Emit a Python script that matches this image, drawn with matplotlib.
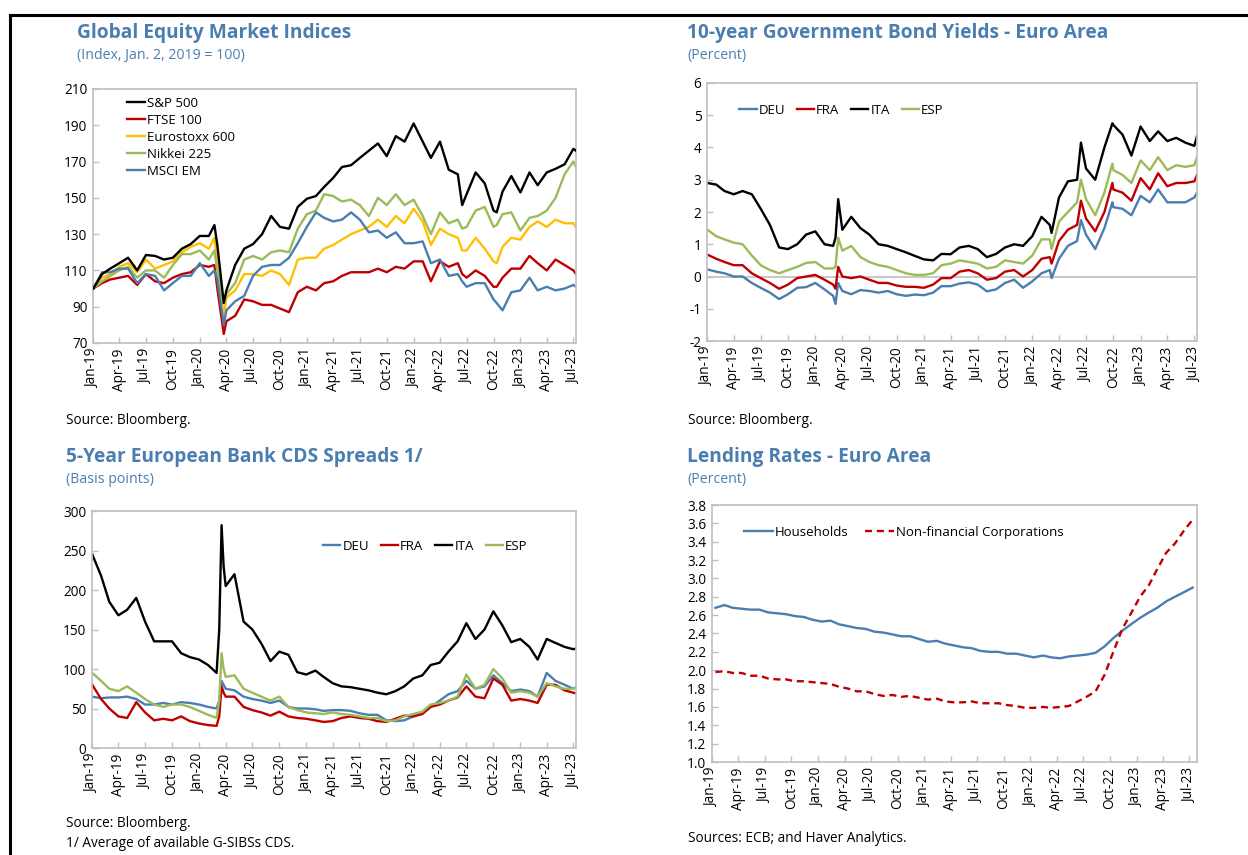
import matplotlib
matplotlib.use("Agg")
import matplotlib.pyplot as plt
import matplotlib.dates as mdates
from matplotlib.lines import Line2D
import pandas as pd

plt.rcParams['font.family'] = ['Open Sans', 'DejaVu Sans']
plt.rcParams['axes.unicode_minus'] = False

# ---------------- Panel 1: Global equity indices ----------------
eq_dates = [
    "2019-01-02", "2019-02-01", "2019-03-01", "2019-04-01", "2019-05-01", "2019-06-01",
    "2019-07-01", "2019-08-01", "2019-09-01", "2019-10-01", "2019-11-01", "2019-12-01",
    "2020-01-01", "2020-02-01", "2020-02-20", "2020-03-01", "2020-03-23", "2020-04-01",
    "2020-05-01", "2020-06-01", "2020-07-01", "2020-08-01", "2020-09-01", "2020-10-01",
    "2020-11-01", "2020-12-01",
    "2021-01-01", "2021-02-01", "2021-03-01", "2021-04-01", "2021-05-01", "2021-06-01",
    "2021-07-01", "2021-08-01", "2021-09-01", "2021-10-01", "2021-11-01", "2021-12-01",
    "2022-01-01", "2022-02-01", "2022-03-01", "2022-04-01", "2022-05-01", "2022-06-01",
    "2022-06-16", "2022-07-01", "2022-08-01", "2022-09-01", "2022-10-01", "2022-10-12",
    "2022-11-01", "2022-12-01",
    "2023-01-01", "2023-02-01", "2023-03-01", "2023-04-01", "2023-05-01", "2023-06-01",
    "2023-07-01", "2023-07-10"]
sp500 = [100, 108, 111, 114, 117, 110, 118.5, 118, 116, 117, 122, 124.5,
         129, 129, 135, 124, 92, 99, 113, 122, 124.5, 130, 140, 134, 133, 145,
         149.5, 151, 156, 161, 167, 168, 172, 176, 180, 173, 184, 181,
         191, 181, 172, 181, 165.5, 163, 146, 152, 164, 158, 143, 142, 153.5, 162,
         153, 164, 157, 164, 166, 168.5, 177, 176]
ftse100 = [100, 103, 105, 106, 107, 102, 108, 104, 103, 106, 108, 109,
           113, 112, 113, 100, 75, 82, 85, 94, 93, 91, 91, 89, 87, 98,
           101, 99, 103, 104, 107, 109, 109, 109, 111, 109, 112, 111,
           115, 115, 104, 115, 112, 114, 108, 106, 110, 107, 101, 101, 106, 111,
           111, 118, 114, 110, 116, 113, 110, 108]
stoxx600 = [100, 106, 108, 112, 114, 109, 116, 111, 113, 115, 120, 123,
            125, 122, 128, 113, 84, 95, 99, 108, 108, 107, 110, 108, 102, 116,
            117, 117, 122, 124, 127, 130, 132, 134, 138, 134, 140, 136,
            144, 137, 124, 133, 130, 128, 121, 121, 128, 122, 115, 114, 123, 128,
            127, 134, 137, 134, 138, 136, 136, 134]
nikkei = [100, 104, 107, 110, 112, 106, 110, 110, 106, 113, 119, 119,
          121, 116, 121, 110, 92, 97, 103, 116, 118, 116, 120, 121, 120, 133,
          141, 143, 152, 151, 148, 149, 146, 140, 150, 146, 152, 146,
          149, 140, 130, 142, 136, 138, 133, 134, 143, 145, 134, 135, 141, 142,
          132, 139, 140, 143, 150, 163, 170, 167]
msci_em = [100, 109, 109, 111, 111, 103, 108, 107, 99, 103, 107, 107,
           114, 107, 110, 105, 80, 88, 93, 96, 107, 112, 113, 113, 117, 125,
           134, 142, 139, 137, 138, 142, 138, 131, 132, 128, 131, 125,
           125, 126, 114, 116, 107, 108, 104, 101, 103, 103, 94, 92, 88, 98,
           99, 106, 99, 101, 99, 100, 102, 101]

# ---------------- Panel 2: 10-year bond yields ----------------
by_dates = [
    "2019-01-02", "2019-02-01", "2019-03-01", "2019-04-01", "2019-05-01", "2019-06-01",
    "2019-07-01", "2019-08-01", "2019-09-01", "2019-10-01", "2019-11-01", "2019-12-01",
    "2020-01-01", "2020-02-01", "2020-03-01", "2020-03-09", "2020-03-18", "2020-04-01",
    "2020-05-01", "2020-06-01", "2020-07-01", "2020-08-01", "2020-09-01", "2020-10-01",
    "2020-11-01", "2020-12-01",
    "2021-01-01", "2021-02-01", "2021-03-01", "2021-04-01", "2021-05-01", "2021-06-01",
    "2021-07-01", "2021-08-01", "2021-09-01", "2021-10-01", "2021-11-01", "2021-12-01",
    "2022-01-01", "2022-02-01", "2022-03-01", "2022-03-07", "2022-04-01", "2022-05-01",
    "2022-06-01", "2022-06-14", "2022-07-01", "2022-08-01", "2022-09-01", "2022-09-28",
    "2022-10-01", "2022-11-01", "2022-12-01",
    "2023-01-01", "2023-02-01", "2023-03-01", "2023-04-01", "2023-05-01", "2023-06-01",
    "2023-07-01", "2023-07-10"]
by_deu = [0.22, 0.15, 0.1, 0.0, 0.0, -0.2, -0.35, -0.5, -0.7, -0.55, -0.35, -0.33,
          -0.2, -0.4, -0.6, -0.85, -0.2, -0.45, -0.55, -0.42, -0.45, -0.5, -0.45, -0.55, -0.6, -0.56,
          -0.58, -0.5, -0.3, -0.3, -0.22, -0.18, -0.25, -0.46, -0.4, -0.2, -0.1, -0.35,
          -0.15, 0.1, 0.2, -0.05, 0.55, 0.95, 1.1, 1.75, 1.3, 0.85, 1.5, 2.3, 2.15, 2.1, 1.9,
          2.5, 2.3, 2.7, 2.3, 2.3, 2.3, 2.45, 2.6]
by_fra = [0.68, 0.55, 0.45, 0.35, 0.35, 0.1, -0.05, -0.2, -0.38, -0.25, -0.05, 0.0,
          0.05, -0.1, -0.25, -0.38, 0.3, 0.0, -0.05, 0.0, -0.1, -0.2, -0.2, -0.28, -0.32, -0.32,
          -0.35, -0.25, -0.05, -0.05, 0.15, 0.2, 0.1, -0.1, -0.05, 0.15, 0.2, 0.0,
          0.2, 0.55, 0.6, 0.4, 1.1, 1.45, 1.6, 2.35, 1.8, 1.4, 2.0, 2.9, 2.7, 2.6, 2.35,
          3.05, 2.7, 3.2, 2.8, 2.9, 2.9, 2.95, 3.15]
by_ita = [2.9, 2.85, 2.65, 2.55, 2.65, 2.55, 2.1, 1.6, 0.9, 0.85, 1.0, 1.3,
          1.4, 1.0, 0.95, 1.2, 2.4, 1.45, 1.85, 1.5, 1.3, 1.0, 0.95, 0.85, 0.75, 0.64,
          0.53, 0.5, 0.7, 0.69, 0.9, 0.95, 0.85, 0.6, 0.7, 0.9, 1.0, 0.95,
          1.25, 1.85, 1.6, 1.35, 2.45, 2.95, 3.0, 4.15, 3.35, 3.0, 4.0, 4.75, 4.7, 4.4, 3.75,
          4.65, 4.2, 4.5, 4.2, 4.3, 4.15, 4.05, 4.35]
by_esp = [1.45, 1.25, 1.15, 1.05, 1.0, 0.65, 0.35, 0.2, 0.1, 0.2, 0.3, 0.42,
          0.45, 0.25, 0.25, 0.3, 1.2, 0.8, 0.95, 0.6, 0.45, 0.35, 0.3, 0.2, 0.1, 0.05,
          0.05, 0.1, 0.35, 0.4, 0.5, 0.45, 0.4, 0.25, 0.3, 0.5, 0.45, 0.4,
          0.65, 1.15, 1.15, 0.85, 1.7, 2.0, 2.3, 3.0, 2.4, 1.9, 2.6, 3.5, 3.3, 3.15, 2.9,
          3.6, 3.3, 3.7, 3.3, 3.45, 3.4, 3.45, 3.7]

# ---------------- Panel 3: bank CDS spreads ----------------
cds_dates = [
    "2019-01-02", "2019-02-01", "2019-03-01", "2019-04-01", "2019-05-01", "2019-06-01",
    "2019-07-01", "2019-08-01", "2019-09-01", "2019-10-01", "2019-11-01", "2019-12-01",
    "2020-01-01", "2020-02-01", "2020-03-01", "2020-03-10", "2020-03-18", "2020-03-25",
    "2020-04-01", "2020-05-01", "2020-06-01", "2020-07-01", "2020-08-01", "2020-09-01",
    "2020-10-01", "2020-11-01", "2020-12-01",
    "2021-01-01", "2021-02-01", "2021-03-01", "2021-04-01", "2021-05-01", "2021-06-01",
    "2021-07-01", "2021-08-01", "2021-09-01", "2021-10-01", "2021-11-01", "2021-12-01",
    "2022-01-01", "2022-02-01", "2022-03-01", "2022-04-01", "2022-05-01", "2022-06-01",
    "2022-07-01", "2022-08-01", "2022-09-01", "2022-10-01", "2022-11-01", "2022-12-01",
    "2023-01-01", "2023-02-01", "2023-03-01", "2023-04-01", "2023-05-01", "2023-06-01",
    "2023-07-01", "2023-07-10"]
cds_deu = [65, 63, 64, 64, 65, 62, 55, 55, 57, 55, 58, 57,
           55, 52, 50, 60, 85, 80, 75, 73, 65, 62, 60, 57, 60, 52, 50,
           50, 49, 47, 48, 48, 47, 44, 42, 42, 35, 34, 35,
           40, 45, 52, 60, 68, 72, 85, 75, 78, 92, 82, 72,
           74, 72, 65, 95, 85, 80, 75, 77]
cds_fra = [80, 62, 50, 40, 38, 58, 45, 35, 37, 35, 40, 34,
           31, 29, 28, 40, 78, 70, 65, 65, 52, 48, 45, 41, 46, 40, 38,
           37, 35, 33, 34, 38, 40, 38, 37, 34, 33, 37, 41,
           40, 43, 52, 55, 60, 64, 78, 65, 63, 88, 80, 60,
           62, 60, 57, 80, 80, 73, 70, 69]
cds_ita = [245, 218, 185, 168, 175, 190, 160, 135, 135, 135, 120, 115,
           112, 105, 95, 150, 282, 230, 205, 220, 160, 150, 132, 110, 122, 118, 96,
           93, 98, 90, 82, 78, 77, 75, 73, 70, 68, 72, 78,
           88, 92, 105, 108, 122, 135, 158, 138, 150, 173, 155, 134,
           138, 128, 112, 138, 133, 128, 125, 126]
cds_esp = [95, 85, 75, 72, 78, 70, 62, 55, 52, 55, 55, 52,
           47, 42, 38, 60, 120, 100, 90, 92, 75, 70, 65, 60, 65, 52, 48,
           45, 44, 43, 45, 43, 42, 40, 38, 38, 34, 35, 40,
           43, 46, 55, 57, 60, 65, 93, 75, 80, 100, 88, 70,
           72, 70, 65, 82, 78, 75, 75, 76]

# ---------------- Panel 4: lending rates ----------------
lr_dates = pd.date_range("2019-01-01", periods=55, freq="MS") + pd.Timedelta(days=12)
households = [2.68, 2.71, 2.68, 2.67, 2.66, 2.66, 2.63, 2.62, 2.61, 2.59, 2.58, 2.55,
              2.53, 2.54, 2.50, 2.48, 2.46, 2.45, 2.42, 2.41, 2.39, 2.37, 2.37, 2.34,
              2.31, 2.32, 2.29, 2.27, 2.25, 2.24, 2.21, 2.20, 2.20, 2.18, 2.18, 2.16,
              2.14, 2.16, 2.14, 2.13, 2.15, 2.16, 2.17, 2.19, 2.26, 2.35, 2.43, 2.50,
              2.57, 2.63, 2.68, 2.75, 2.80, 2.85, 2.90]
nfc = [1.98, 1.99, 1.97, 1.97, 1.94, 1.94, 1.91, 1.90, 1.90, 1.88, 1.88, 1.87,
       1.86, 1.85, 1.82, 1.80, 1.77, 1.77, 1.74, 1.72, 1.73, 1.71, 1.72, 1.70,
       1.68, 1.69, 1.66, 1.65, 1.65, 1.66, 1.64, 1.64, 1.64, 1.62, 1.61, 1.59,
       1.59, 1.60, 1.59, 1.60, 1.61, 1.66, 1.71, 1.77, 1.95, 2.20, 2.45, 2.62,
       2.80, 2.93, 3.10, 3.28, 3.38, 3.52, 3.64]

# ---------------- styling ----------------
BLUE_T = '#4A7EB0'
C_BLACK = '#000000'
C_RED = '#C00000'
C_GOLD = '#FFC000'
C_GREEN = '#9BBB59'
C_BLUE = '#4A7EB0'
GRID = '#BFBFBF'
LW = 1.7

W, H = 1248, 855
fig = plt.figure(figsize=(W / 100, H / 100), dpi=100)


def add_ax(x0, y0, x1, y1):
    return fig.add_axes([x0 / W, 1 - y1 / H, (x1 - x0) / W, (y1 - y0) / H])


def style(ax, xmin, xmax):
    for s in ax.spines.values():
        s.set_color(GRID)
        s.set_linewidth(1.2)
    ax.tick_params(direction='in', length=4, color=GRID, width=1,
                   labelsize=9.8, labelcolor='black', pad=4)
    ax.xaxis.set_major_locator(mdates.MonthLocator(bymonth=[1, 4, 7, 10]))
    ax.xaxis.set_major_formatter(mdates.DateFormatter('%b-%y'))
    ax.set_xlim(pd.Timestamp(xmin), pd.Timestamp(xmax))
    for lab in ax.get_xticklabels():
        lab.set_rotation(90)


def ftext(x, y, s, **kw):
    fig.text(x / W, 1 - y / H, s, va='center', ha='left', **kw)


# Panel 1
ax1 = add_ax(93, 89, 576, 343)
d1 = pd.to_datetime(eq_dates)
ax1.plot(d1, sp500, color=C_BLACK, lw=LW, label='S&P 500', zorder=5)
ax1.plot(d1, ftse100, color=C_RED, lw=LW, label='FTSE 100')
ax1.plot(d1, stoxx600, color=C_GOLD, lw=LW, label='Eurostoxx 600')
ax1.plot(d1, nikkei, color=C_GREEN, lw=LW, label='Nikkei 225')
ax1.plot(d1, msci_em, color=C_BLUE, lw=LW, label='MSCI EM')
ax1.set_ylim(70, 210)
ax1.set_yticks(range(70, 211, 20))
style(ax1, "2019-01-01", "2023-07-10")
ax1.legend(loc='upper left', bbox_to_anchor=(0.055, 1.0), frameon=False,
           fontsize=9.5, handlelength=1.3, handletextpad=0.15,
           labelspacing=0.3, borderaxespad=0.2)

# Panel 2
ax2 = add_ax(707, 83, 1197, 341)
d2 = pd.to_datetime(by_dates)
ax2.axhline(0, color=GRID, lw=1.2, zorder=1)
ax2.plot(d2, by_deu, color=C_BLUE, lw=LW, label='DEU')
ax2.plot(d2, by_fra, color=C_RED, lw=LW, label='FRA')
ax2.plot(d2, by_ita, color=C_BLACK, lw=LW, label='ITA')
ax2.plot(d2, by_esp, color=C_GREEN, lw=LW, label='ESP')
ax2.set_ylim(-2, 6)
ax2.set_yticks(range(-2, 7))
style(ax2, "2019-01-01", "2023-07-10")
ax2.legend(loc='upper left', bbox_to_anchor=(0.05, 0.95), frameon=False,
           fontsize=9.5, ncol=4, handlelength=1.3, handletextpad=0.15,
           columnspacing=0.9, borderaxespad=0.2)

# Panel 3
ax3 = add_ax(92, 511, 576, 748)
d3 = pd.to_datetime(cds_dates)
ax3.plot(d3, cds_deu, color=C_BLUE, lw=LW, label='DEU')
ax3.plot(d3, cds_fra, color=C_RED, lw=LW, label='FRA')
ax3.plot(d3, cds_ita, color=C_BLACK, lw=LW, label='ITA')
ax3.plot(d3, cds_esp, color=C_GREEN, lw=LW, label='ESP')
ax3.set_ylim(0, 300)
ax3.set_yticks(range(0, 301, 50))
style(ax3, "2019-01-01", "2023-07-10")
ax3.legend(loc='center right', bbox_to_anchor=(0.91, 0.852), frameon=False,
           fontsize=9.5, ncol=4, handlelength=1.3, handletextpad=0.15,
           columnspacing=0.9, borderaxespad=0.0)

# Panel 4
ax4 = add_ax(712, 505, 1197, 762)
ax4.plot(lr_dates, households, color=C_BLUE, lw=LW, label='Households')
ax4.plot(lr_dates, nfc, color=C_RED, lw=LW, ls=(0, (3, 2)),
         label='Non-financial Corporations')
ax4.set_ylim(1.0, 3.8)
ax4.set_yticks([1.0 + 0.2 * i for i in range(15)])
ax4.yaxis.set_major_formatter(matplotlib.ticker.FormatStrFormatter('%.1f'))
style(ax4, "2019-01-01", "2023-07-28")
ax4.legend(loc='upper left', bbox_to_anchor=(0.05, 0.95), frameon=False,
           fontsize=9.5, ncol=2, handlelength=2.2, handletextpad=0.15,
           columnspacing=1.2, borderaxespad=0.2)

# Titles, subtitles and notes
tkw = dict(color=BLUE_T, fontsize=13.8, fontweight='bold')
skw = dict(color=BLUE_T, fontsize=10.2)
nkw = dict(color='black', fontsize=9.8)
ftext(77, 33, 'Global Equity Market Indices', **tkw)
ftext(77, 56, '(Index, Jan. 2, 2019 = 100)', **skw)
ftext(687, 33, '10-year Government Bond Yields - Euro Area', **tkw)
ftext(687, 56, '(Percent)', **skw)
ftext(66, 457, '5-Year European Bank CDS Spreads 1/', **tkw)
ftext(66, 479, '(Basis points)', **skw)
ftext(687, 457, 'Lending Rates - Euro Area', **tkw)
ftext(687, 479, '(Percent)', **skw)
ftext(66, 420, 'Source: Bloomberg.', **nkw)
ftext(688, 420, 'Source: Bloomberg.', **nkw)
ftext(66, 823, 'Source: Bloomberg.', **nkw)
ftext(66, 843, '1/ Average of available G-SIBSs CDS.', **nkw)
ftext(688, 838, 'Sources: ECB; and Haver Analytics.', **nkw)

# Outer frame (top and left borders)
fig.add_artist(Line2D([10 / W, 1.0], [1 - 15 / H, 1 - 15 / H], color='black',
                      lw=2.2, transform=fig.transFigure))
fig.add_artist(Line2D([10 / W, 10 / W], [1 - 15 / H, 0.0], color='black',
                      lw=2.2, transform=fig.transFigure))

fig.savefig('out.png', dpi=100)
